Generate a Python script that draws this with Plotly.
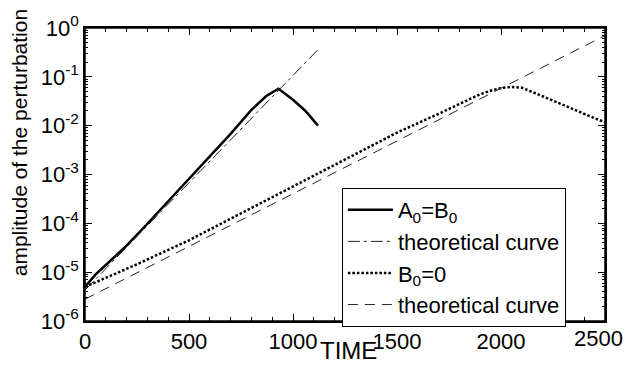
import plotly.graph_objects as go

# ---- data ----
t_ab = [0, 50, 100, 200, 300, 400, 500, 600, 700, 800, 870, 930, 1000, 1060, 1120]
amp_ab = [5.0e-6, 8.9e-6, 1.4e-5, 3.5e-5, 9.8e-5, 2.8e-4, 8.1e-4, 2.3e-3, 6.8e-3,
          2.1e-2, 4.0e-2, 5.7e-2, 3.4e-2, 2.0e-2, 1.0e-2]

t_th_ab = [0, 1120]
amp_th_ab = [4.3e-6, 0.36]

t_b0 = [0, 100, 250, 500, 750, 1000, 1250, 1500, 1700, 1800, 1900, 1950, 2000,
        2050, 2100, 2200, 2300, 2400, 2500]
amp_b0 = [5.0e-6, 7.6e-6, 1.45e-5, 4.5e-5, 1.6e-4, 5.6e-4, 2.0e-3, 7.2e-3, 1.75e-2,
          2.8e-2, 4.4e-2, 5.2e-2, 5.9e-2, 6.2e-2, 6.0e-2, 4.0e-2, 2.6e-2, 1.74e-2, 1.17e-2]

t_th_b0 = [0, 2500]
amp_th_b0 = [2.8e-6, 0.70]

x_ticks = [0, 500, 1000, 1500, 2000, 2500]
x_ticktext = ["0", "500", "1000", "1500", "2000", ""]   # last label drawn flush with the edge below
last_x_label = "2500"
y_tickvals = [1e-6, 1e-5, 1e-4, 1e-3, 1e-2, 1e-1, 1e0]
y_ticktext = ["10<sup>-6</sup>", "10<sup>-5</sup>", "10<sup>-4</sup>", "10<sup>-3</sup>",
              "10<sup>-2</sup>", "10<sup>-1</sup>", "10<sup>0</sup>"]

FONT = "Liberation Sans, Arial, Helvetica, sans-serif"

fig = go.Figure()
fig.add_trace(go.Scatter(x=t_ab, y=amp_ab, mode="lines", name="A<sub>0</sub>=B<sub>0</sub>",
                         line=dict(color="black", width=2.5)))
fig.add_trace(go.Scatter(x=t_th_ab, y=amp_th_ab, mode="lines", name="theoretical curve",
                         line=dict(color="#222", width=1, dash="12px,4px,3px,4px")))
fig.add_trace(go.Scatter(x=t_b0, y=amp_b0, mode="lines", name="B<sub>0</sub>=0",
                         line=dict(color="black", width=2.5, dash="2.5px,2px")))
fig.add_trace(go.Scatter(x=t_th_b0, y=amp_th_b0, mode="lines", name="theoretical curve",
                         line=dict(color="#222", width=1, dash="10px,7px")))

minor_y = [m * 10.0 ** e for e in range(-6, 0) for m in range(2, 10)]

fig.update_layout(
    width=626, height=366,
    margin=dict(l=85, r=21, t=22, b=40),
    paper_bgcolor="white", plot_bgcolor="white",
    font=dict(family=FONT, size=22, color="black"),
    showlegend=True,
    legend=dict(x=0.494, y=0.454, xanchor="left", yanchor="top",
                bgcolor="white", bordercolor="black", borderwidth=1,
                font=dict(family=FONT, size=22, color="black"), tracegroupgap=0, itemwidth=45),
    xaxis=dict(range=[0, 2500], tickvals=x_ticks, ticktext=x_ticktext, ticks="inside", ticklen=7,
               tickcolor="black", tickwidth=1.2, showline=True, linecolor="black", linewidth=1.5,
               mirror="allticks", showgrid=False, zeroline=False,
               minor=dict(dtick=100, ticks="inside", ticklen=4, tickcolor="black", showgrid=False),
               tickfont=dict(family=FONT, size=22, color="black")),
    yaxis=dict(type="log", range=[-6, 0], tickvals=y_tickvals, ticktext=y_ticktext,
               ticks="inside", ticklen=7, tickcolor="black", tickwidth=1.2, showline=True,
               linecolor="black", linewidth=1.5, mirror="allticks", showgrid=False, zeroline=False,
               minor=dict(tickvals=minor_y, ticks="inside", ticklen=3, tickcolor="black", showgrid=False),
               tickfont=dict(family=FONT, size=22, color="black")),
    shapes=[dict(type="rect", xref="paper", yref="paper", x0=0, x1=1, y0=0, y1=1,
                 line=dict(color="black", width=1.5), layer="above")],
    annotations=[
        dict(text=last_x_label, xref="paper", yref="paper", x=1.0385, y=-0.060,
             xanchor="right", yanchor="middle", showarrow=False,
             font=dict(family=FONT, size=22, color="black")),
        dict(text="TIME", xref="paper", yref="paper", x=0.506, y=-0.099,
             xanchor="center", yanchor="middle", showarrow=False,
             font=dict(family=FONT, size=24, color="black")),
        dict(text="amplitude of the perturbation", xref="paper", yref="paper",
             x=-0.127, y=0.61, xanchor="center", yanchor="middle", textangle=-90,
             showarrow=False, font=dict(family=FONT, size=21, color="black")),
    ],
)

fig.write_html(
    "out.html", config={"displayModeBar": False},
    post_script=("document.documentElement.style.overflow='hidden';"
                 "document.body.style.overflow='hidden';"
                 "document.body.style.margin='0px';document.body.style.padding='0px';"),
)
